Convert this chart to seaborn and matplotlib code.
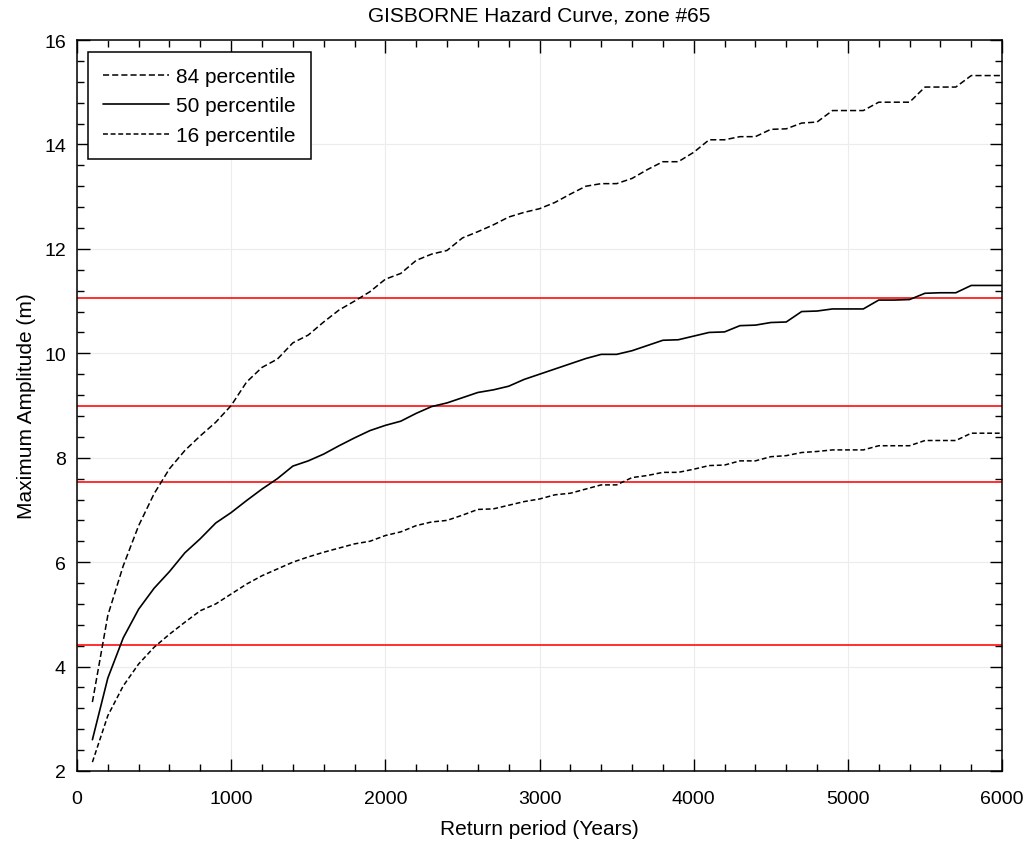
import numpy as np
import pandas as pd
import matplotlib
matplotlib.use("Agg")
import matplotlib.pyplot as plt
from matplotlib.ticker import MultipleLocator
import seaborn as sns

return_period = list(range(100, 6001, 100))

p84 = [3.32, 4.98, 5.93, 6.70, 7.31, 7.79, 8.14, 8.42, 8.68, 9.00,
       9.45, 9.73, 9.89, 10.20, 10.35, 10.60, 10.83, 11.00, 11.18, 11.42,
       11.53, 11.78, 11.90, 11.97, 12.21, 12.33, 12.46, 12.61, 12.70, 12.77,
       12.89, 13.05, 13.20, 13.25, 13.25, 13.35, 13.52, 13.67, 13.67, 13.85,
       14.09, 14.09, 14.15, 14.15, 14.29, 14.30, 14.41, 14.43, 14.65, 14.65,
       14.65, 14.81, 14.81, 14.81, 15.10, 15.10, 15.10, 15.32, 15.32, 15.32]

p50 = [2.60, 3.78, 4.55, 5.10, 5.50, 5.82, 6.18, 6.45, 6.75, 6.95,
       7.18, 7.40, 7.60, 7.84, 7.94, 8.07, 8.23, 8.38, 8.52, 8.62,
       8.70, 8.85, 8.98, 9.05, 9.15, 9.25, 9.30, 9.37, 9.50, 9.60,
       9.70, 9.80, 9.90, 9.98, 9.98, 10.05, 10.15, 10.25, 10.26, 10.33,
       10.40, 10.41, 10.53, 10.54, 10.59, 10.60, 10.80, 10.81, 10.85, 10.85,
       10.85, 11.02, 11.02, 11.03, 11.15, 11.16, 11.16, 11.30, 11.30, 11.30]

p16 = [2.17, 3.06, 3.63, 4.05, 4.37, 4.62, 4.85, 5.07, 5.20, 5.39,
       5.58, 5.74, 5.87, 6.00, 6.10, 6.19, 6.27, 6.35, 6.40, 6.51,
       6.58, 6.70, 6.77, 6.80, 6.90, 7.01, 7.02, 7.09, 7.16, 7.21,
       7.29, 7.32, 7.40, 7.48, 7.48, 7.62, 7.66, 7.72, 7.72, 7.78,
       7.85, 7.86, 7.94, 7.94, 8.02, 8.04, 8.10, 8.12, 8.15, 8.15,
       8.15, 8.23, 8.23, 8.23, 8.33, 8.33, 8.33, 8.47, 8.47, 8.47]

series_labels = ["84 percentile", "50 percentile", "16 percentile"]
threshold_levels = [11.06, 9.0, 7.54, 4.41]

title = "GISBORNE Hazard Curve, zone #65"
xlabel = "Return period (Years)"
ylabel = "Maximum Amplitude (m)"

sns.set_theme(style="ticks")
plt.rcParams["font.family"] = ["Liberation Sans", "DejaVu Sans"]
plt.rcParams["text.color"] = "black"
plt.rcParams["axes.labelcolor"] = "black"

fig = plt.figure(figsize=(10.32, 8.45), dpi=100)
ax = fig.add_axes([0.0746, 0.0864, 0.8964, 0.865])

df = pd.DataFrame({"x": return_period, "p84": p84, "p50": p50, "p16": p16})

styles = {
    "84 percentile": dict(ls=(0, (4, 2)), lw=1.1),
    "50 percentile": dict(ls="-", lw=1.2),
    "16 percentile": dict(ls=(0, (3.2, 1.8)), lw=1.1),
}
for col, lab in zip(["p84", "p50", "p16"], series_labels):
    st = styles[lab]
    sns.lineplot(data=df, x="x", y=col, ax=ax, color="black",
                 linestyle=st["ls"], linewidth=st["lw"], label=lab)

for lvl in threshold_levels:
    ax.axhline(lvl, color="#ff2020", lw=1.3, zorder=1)

ax.set_xlim(0, 6000)
ax.set_ylim(2, 16)
ax.xaxis.set_major_locator(MultipleLocator(1000))
ax.xaxis.set_minor_locator(MultipleLocator(200))
ax.yaxis.set_major_locator(MultipleLocator(2))
ax.yaxis.set_minor_locator(MultipleLocator(0.4))
ax.tick_params(which="both", direction="in", top=True, right=True,
               colors="black", labelcolor="black", labelsize=14)
ax.tick_params(axis="x", which="major", pad=14)
ax.tick_params(axis="y", which="major", pad=8)
ax.tick_params(which="major", length=9, width=1)
ax.tick_params(which="minor", length=5, width=1)
ax.grid(True, which="major", color="#ececec", lw=0.8, zorder=0)
for s in ax.spines.values():
    s.set_color("black")
    s.set_linewidth(1.1)

ax.set_title(title, fontsize=15, pad=14, color="black")
ax.set_xlabel(xlabel, fontsize=15, labelpad=8, color="black")
ax.set_ylabel(ylabel, fontsize=15, labelpad=6, color="black")

leg = ax.legend(loc="upper left", fontsize=15, frameon=True, fancybox=False,
                edgecolor="black", framealpha=1, handlelength=3.2,
                handletextpad=0.34, borderpad=0.7, labelspacing=0.5,
                borderaxespad=0, bbox_to_anchor=(0.012, 0.983))
leg.get_frame().set_linewidth(1.1)
for t in leg.get_texts():
    t.set_color("black")

fig.savefig("out.png", dpi=100)
